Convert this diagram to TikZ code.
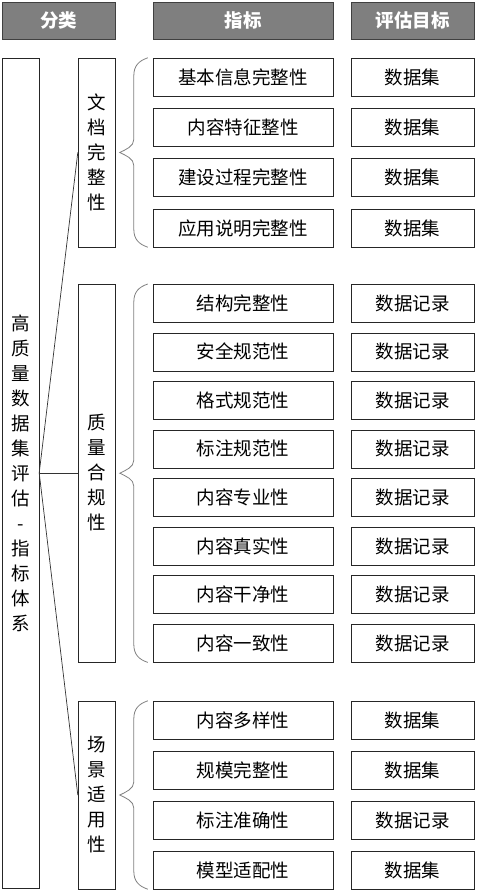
\documentclass[tikz,border=0pt]{standalone}
\usepackage{fontspec}
\setmainfont{Noto Sans CJK SC}
\usetikzlibrary{calc, positioning}
\definecolor{headGray}{HTML}{7F7F7F}
\definecolor{braceGray}{HTML}{808080}
\tikzset{
    headBox/.style={draw=black!75, fill=headGray, text=white, font=\fontsize{18.5}{22}\selectfont\bfseries, minimum height=37pt, inner sep=0pt},
    itemBox/.style={draw=black!85, fill=white, font=\fontsize{18.5}{22}\selectfont, minimum width=180pt, minimum height=38pt, inner sep=0pt},
    targetBox/.style={draw=black!85, fill=white, font=\fontsize{18.5}{22}\selectfont, minimum width=123pt, minimum height=38pt, inner sep=0pt},
    catBox/.style={draw=black!85, minimum width=37pt, inner sep=0pt, align=center, font=\fontsize{18.5}{25}\selectfont},
    braceLine/.style={draw=braceGray, line width=0.8pt},
    linkLine/.style={draw=black!80, line width=0.7pt},
}
\newcommand{\drawRow}[4]{
    % 指标 + 评估目标
    \node[itemBox] (#1) at (243, #2) {#3};
    \node[targetBox] (#1t) at (412.5, #2) {#4};
}
\newcommand{\drawBrace}[2]{
    % 左花括号, 从第一个指标到最后一个
    \coordinate (bA) at ($(#1.north west)+(-5,0)$);
    \coordinate (bB) at ($(#2.south west)+(-5,0)$);
    \coordinate (bM) at ($(bA)!0.5!(bB)$);
    \draw[braceLine] (bA) .. controls +(-9,3) and +(0,-10) .. ($(bA)+(-14,18)$)
        -- ($(bM)+(-14,-13)$) .. controls +(0,7) and +(6,-3) .. ($(bM)+(-28,0)$)
        .. controls +(6,3) and +(0,-7) .. ($(bM)+(-14,13)$)
        -- ($(bB)+(-14,-18)$) .. controls +(0,10) and +(-9,-3) .. (bB);
}
\begin{document}
\begin{tikzpicture}[x=1pt, y=-1pt]
    \useasboundingbox (0,0) rectangle (476,890);

    % 表头
    \node[headBox, minimum width=113pt] (hCat) at (58.5, 20.5) {分类};
    \node[headBox, minimum width=180pt] (hInd) at (243, 20.5) {指标};
    \node[headBox, minimum width=123pt] (hTgt) at (412.5, 20.5) {评估目标};

    % 分类
    \node[catBox, minimum height=830pt] (root) at (20.5, 473) {高\\质\\量\\数\\据\\集\\评\\估\\-\\指\\标\\体\\系};
    \node[catBox, minimum height=189pt] (docCat) at (96.5, 152.5) {文\\档\\完\\整\\性};
    \node[catBox, minimum height=378pt] (qualCat) at (96.5, 473) {质\\量\\合\\规\\性};
    \node[catBox, minimum height=188pt] (sceneCat) at (96.5, 795) {场\\景\\适\\用\\性};

    \draw[linkLine] (root.east) -- (docCat.west);
    \draw[linkLine] (root.east) -- (qualCat.west);
    \draw[linkLine] (root.east) -- (sceneCat.west);

    % 文档完整性
    \drawRow{d1}{77}{基本信息完整性}{数据集}
    \drawRow{d2}{127.3}{内容特征整性}{数据集}
    \drawRow{d3}{177.7}{建设过程完整性}{数据集}
    \drawRow{d4}{228}{应用说明完整性}{数据集}
    \drawBrace{d1}{d4}

    % 质量合规性
    \drawRow{q1}{303.2}{结构完整性}{数据记录}
    \drawRow{q2}{351.8}{安全规范性}{数据记录}
    \drawRow{q3}{400.3}{格式规范性}{数据记录}
    \drawRow{q4}{448.9}{标注规范性}{数据记录}
    \drawRow{q5}{497.5}{内容专业性}{数据记录}
    \drawRow{q6}{546.1}{内容真实性}{数据记录}
    \drawRow{q7}{594.6}{内容干净性}{数据记录}
    \drawRow{q8}{643.2}{内容一致性}{数据记录}
    \drawBrace{q1}{q8}

    % 场景适用性
    \drawRow{s1}{720}{内容多样性}{数据集}
    \drawRow{s2}{770}{规模完整性}{数据集}
    \drawRow{s3}{820}{标注准确性}{数据记录}
    \drawRow{s4}{870}{模型适配性}{数据集}
    \drawBrace{s1}{s4}

\end{tikzpicture}
\end{document}
